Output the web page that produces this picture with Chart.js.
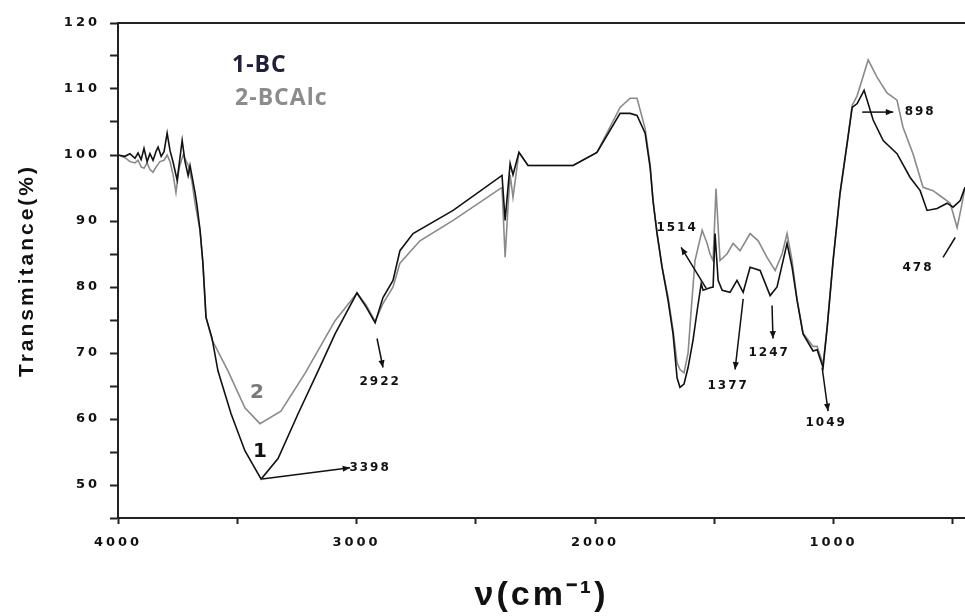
<!DOCTYPE html>
<html><head><meta charset="utf-8">
<title>FTIR spectra BC / BCAlc</title>
<style>
  body { margin: 0; background: #fff; }
  #wrap { width: 965px; height: 616px; }
</style>
<script src="https://cdn.jsdelivr.net/npm/chart.js"></script>
</head>
<body>
<div id="wrap"><canvas id="ftir" width="965" height="616"></canvas></div>
<script>
// spectrum 1 (BC): wavenumber (cm-1) / transmittance (%)
const bcWave = [4000,3971,3950,3929,3916,3903,3891,3878,3866,3853,3840,3832,3819,3807,3794,3782,3769,3752,3731,3719,
  3706,3698,3677,3669,3656,3644,3631,3606,3581,3526,3468,3400,3329,3245,3161,3090,2998,2960,2922,2889,
  2847,2818,2763,2595,2390,2377,2356,2344,2319,2281,2092,1992,1895,1853,1824,1790,1769,1757,1740,1719,
  1694,1673,1656,1644,1627,1610,1589,1572,1555,1547,1518,1505,1497,1484,1467,1434,1405,1379,1350,1308,
  1266,1237,1195,1174,1153,1128,1086,1069,1044,1027,1002,973,943,922,901,872,834,792,734,679,
  637,608,566,524,499,469,449];
const bcT = [100,99.8,100.2,99.5,100.3,99.3,101.0,99.0,100.2,99.2,100.6,101.2,99.8,100.5,103.3,100.7,98.9,96.2,102.2,99.0,
  96.9,98.4,94.3,92.4,88.6,83.6,75.4,72.3,67.3,60.8,55.2,50.9,54.0,60.8,67.3,72.9,79.1,77.0,74.6,78.4,
  81.0,85.5,88.1,91.6,96.9,90.1,98.7,97.0,100.4,98.4,98.4,100.4,106.3,106.3,106.0,103.3,98.1,93.1,88.1,83.0,
  78.0,72.9,66.2,64.8,65.3,67.8,72.0,76.4,80.5,79.5,79.9,80.0,88.1,81.0,79.5,79.2,81.0,79.2,83.0,82.5,
  78.7,80.0,86.6,83.0,78.0,72.9,70.3,70.5,67.8,73.8,84.0,94.2,101.8,107.2,107.8,109.8,105.3,102.2,100.2,96.6,
  94.6,91.6,91.9,92.7,92.1,93.1,95.1];

// spectrum 2 (BCAlc)
const alcWave = [4000,3971,3950,3929,3916,3903,3891,3878,3866,3853,3840,3824,3807,3794,3782,3769,3757,3744,3727,3706,
  3690,3677,3656,3644,3631,3606,3539,3468,3405,3317,3216,3090,2998,2960,2922,2889,2847,2818,2734,2595,
  2390,2377,2365,2356,2344,2319,2281,2092,1992,1895,1853,1824,1790,1769,1757,1740,1719,1694,1673,1656,
  1644,1627,1610,1598,1581,1551,1530,1518,1505,1493,1476,1447,1421,1392,1350,1316,1279,1245,1216,1195,
  1174,1153,1128,1086,1069,1044,1027,1002,973,943,922,901,855,818,776,734,709,667,625,583,
  545,511,482,465,449];
const alcT = [100,99.6,99.0,98.8,99.2,98.2,98.0,98.8,97.8,97.4,98.2,99.0,99.2,100.0,99.0,97.0,94.3,98.0,100.0,98.5,
  96.0,92.7,88.6,83.6,75.4,72.0,67.3,61.7,59.3,61.2,66.9,74.9,79.1,77.3,74.8,77.5,80.0,83.6,87.0,90.1,
  95.1,84.5,92.0,97.0,93.6,100.4,98.4,98.4,100.4,107.2,108.6,108.6,104.0,98.5,93.1,88.1,83.0,78.5,73.5,68.5,
  67.5,67.0,70.0,76.0,84.0,88.6,86.6,85.0,84.0,94.9,84.0,85.0,86.6,85.5,88.1,87.0,84.5,82.5,85.0,88.1,
  84.0,78.0,73.0,71.0,71.0,68.3,73.8,84.0,94.2,101.8,107.5,109.0,114.4,111.8,109.4,108.3,104.2,100.2,95.1,94.6,
  93.6,92.7,89.0,92.0,95.1];

const xTicks = [4000,3500,3000,2500,2000,1500,1000,500];
const xLabels = [4000,3000,2000,1000];
const yTicks = [45,50,55,60,65,70,75,80,85,90,95,100,105,110,115,120];
const yLabels = [50,60,70,80,90,100,110,120];

// text placed on the plot (wavenumber, transmittance)
const notes = [
  {text:'1-BC', w:3522, t:113.5, color:'#20203a', font:'bold 23px "Open Sans"', align:'left', sp:'1px'},
  {text:'2-BCAlc', w:3509, t:108.5, color:'#8c8c8c', font:'bold 23px "Open Sans"', align:'left', sp:'1px'},
  {text:'2', w:3417, t:64.0, color:'#7a7a7a', font:'bold 20px "DejaVu Sans"', align:'center', sp:'0px'},
  {text:'1', w:3405, t:55.0, color:'#111', font:'bold 20px "DejaVu Sans"', align:'center', sp:'0px'},
  {text:'3398', w:2943, t:52.6},
  {text:'2922', w:2901, t:65.6},
  {text:'1514', w:1656, t:88.9},
  {text:'1377', w:1442, t:65.0},
  {text:'1247', w:1270, t:70.0},
  {text:'1049', w:1031, t:59.4},
  {text:'898', w:637, t:106.5},
  {text:'478', w:646, t:82.9}
];
// arrows: from (w,t) to (w,t), arrow head at the end
const arrows = [
  [3396, 50.9, 3027, 52.6, true],
  [2914, 72.2, 2889, 67.8, true],
  [1534, 79.8, 1639, 86.0, true],
  [1379, 78.2, 1413, 67.5, true],
  [1258, 77.2, 1254, 72.2, true],
  [1048, 67.8, 1023, 61.2, true],
  [880, 106.5, 750, 106.5, true],
  [490, 87.5, 541, 84.5, false]
];

const spacing = {
  id: 'spacing',
  beforeDraw(chart) { chart.ctx.letterSpacing = '3px'; },
  beforeDatasetsDraw(chart) { chart.ctx.letterSpacing = '0px'; }
};

const annotate = {
  id: 'annotate',
  afterDatasetsDraw(chart) {
    const ctx = chart.ctx, xs = chart.scales.x, ys = chart.scales.y;
    ctx.save();
    ctx.strokeStyle = '#111';
    ctx.fillStyle = '#111';
    ctx.lineWidth = 1.5;
    arrows.forEach(a => {
      const x1 = xs.getPixelForValue(a[0]), y1 = ys.getPixelForValue(a[1]);
      const x2 = xs.getPixelForValue(a[2]), y2 = ys.getPixelForValue(a[3]);
      ctx.beginPath();
      ctx.moveTo(x1, y1);
      ctx.lineTo(x2, y2);
      ctx.stroke();
      if (a[4]) {
        const ang = Math.atan2(y2 - y1, x2 - x1);
        ctx.beginPath();
        ctx.moveTo(x2, y2);
        ctx.lineTo(x2 - 8 * Math.cos(ang - 0.4), y2 - 8 * Math.sin(ang - 0.4));
        ctx.lineTo(x2 - 8 * Math.cos(ang + 0.4), y2 - 8 * Math.sin(ang + 0.4));
        ctx.closePath();
        ctx.fill();
      }
    });
    ctx.textBaseline = 'middle';
    notes.forEach(n => {
      ctx.font = n.font || 'bold 12px "DejaVu Sans"';
      ctx.fillStyle = n.color || '#111';
      ctx.textAlign = n.align || 'center';
      ctx.letterSpacing = n.sp || '2px';
      ctx.fillText(n.text, xs.getPixelForValue(n.w), ys.getPixelForValue(n.t));
    });
    ctx.restore();
  }
};

const toPoints = (ws, ts) => ws.map((w, i) => ({x: w, y: ts[i]}));

new Chart(document.getElementById('ftir'), {
  type: 'scatter',
  data: {
    datasets: [
      {label: '1-BC', data: toPoints(bcWave, bcT), showLine: true, borderColor: '#111', borderWidth: 1.6, pointRadius: 0, tension: 0},
      {label: '2-BCAlc', data: toPoints(alcWave, alcT), showLine: true, borderColor: '#8a8a8a', borderWidth: 1.6, pointRadius: 0, tension: 0}
    ]
  },
  options: {
    responsive: false,
    animation: false,
    layout: {padding: {top: 23, left: 0, right: 0, bottom: 0}},
    plugins: {legend: {display: false}, tooltip: {enabled: false}},
    scales: {
      x: {
        type: 'linear', position: 'bottom', reverse: true, min: 449, max: 4000,
        afterBuildTicks: s => { s.ticks = xTicks.map(v => ({value: v})); },
        afterFit: s => { s.height = 98; },
        ticks: {
          color: '#111', padding: 11, maxRotation: 0, autoSkip: false,
          font: {family: '"DejaVu Sans"', size: 13, weight: 'bold'},
          callback: v => xLabels.includes(v) ? String(v) : ''
        },
        grid: {drawOnChartArea: false, drawTicks: true, tickLength: 6, tickColor: '#222', tickWidth: 2},
        border: {color: '#222', width: 2},
        title: {
          display: true, text: 'ν(cm⁻¹)', color: '#111',
          font: {family: '"Liberation Sans"', size: 34, weight: 'bold'},
          padding: {top: 0, bottom: 0}
        }
      },
      xTop: {
        type: 'linear', position: 'top', reverse: true, min: 449, max: 4000,
        afterFit: s => { s.height = 0; },
        ticks: {display: false},
        grid: {display: false},
        border: {display: true, color: '#222', width: 2}
      },
      y: {
        type: 'linear', min: 45, max: 120,
        afterBuildTicks: s => { s.ticks = yTicks.map(v => ({value: v})); },
        afterFit: s => { s.width = 118; },
        ticks: {
          color: '#111', padding: 10,
          font: {family: '"DejaVu Sans"', size: 13, weight: 'bold'},
          callback: v => yLabels.includes(v) ? String(v) : ''
        },
        grid: {drawOnChartArea: false, drawTicks: true, tickLength: 8, tickColor: '#222', tickWidth: 2},
        border: {color: '#222', width: 2},
        title: {
          display: true, text: 'Transmitance(%)', color: '#111',
          font: {family: '"Liberation Sans"', size: 21, weight: 'bold'},
          padding: {top: 15, bottom: 0}
        }
      }
    }
  },
  plugins: [spacing, annotate]
});
</script>
</body></html>
